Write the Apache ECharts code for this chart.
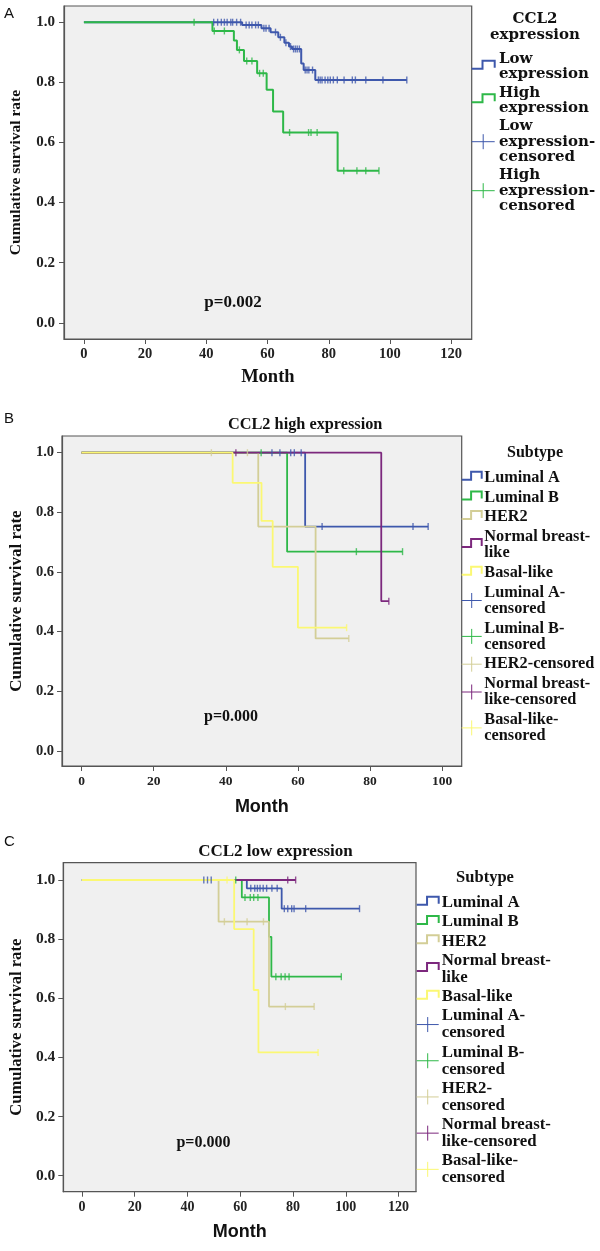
<!DOCTYPE html>
<html><head><meta charset="utf-8">
<script src="https://cdn.jsdelivr.net/npm/echarts@6/dist/echarts.min.js"></script>
<style>html,body{margin:0;padding:0;background:#fff}#c{width:600px;height:1251px}</style>
</head><body><div id="c"></div>
<script>
// ================= DATA =================
const monthTicksA = [0, 20, 40, 60, 80, 100, 120];
const monthTicksB = [0, 20, 40, 60, 80, 100];
const monthTicksC = [0, 20, 40, 60, 80, 100, 120];
const survTicks = [0, 0.2, 0.4, 0.6, 0.8, 1.0];

// Panel A – CCL2 expression  ([month, cumulative survival] after each event)
const aLowSteps = [[0,1],[51.7,0.991],[58,0.98],[61,0.967],[63.5,0.95],[65.5,0.932],[67,0.919],[68,0.911],[71,0.863],[71.8,0.841],[75.6,0.808],[105.5,0.808]];
const aLowCensored = [42.4,43.7,44.9,45.9,46.8,48,48.6,49.9,51.2,53,54,54.9,56.1,57,58.8,59.5,60.5,62.6,64.2,66,67.5,68.5,69.1,69.7,70.4,72.3,72.9,73.5,74.7,76.6,77.2,77.8,78.8,79.7,80.5,81.5,82.8,85,87.7,88.7,92.1,97.7,105.5];
const aHighSteps = [[0,1],[42,0.971],[49,0.939],[50,0.908],[52.3,0.871],[56.6,0.83],[59.7,0.775],[61.8,0.703],[65.1,0.633],[82.9,0.506],[96.4,0.506]];
const aHighCensored = [36,42.6,45.9,50.8,53.2,54.9,57.4,58.6,67.2,73.4,74.2,76.2,84.9,89.2,92.1,96.4];

// Panel B – CCL2 high expression, by subtype
const bLumASteps = [[0,1],[62,0.752],[96.1,0.752]];
const bLumACensored = [52.8,55,58,59,60.9,66.7,91.9,96.1];
const bLumBSteps = [[0,1],[57,0.668],[89,0.668]];
const bLumBCensored = [49.8,76.2,89];
const bHer2Steps = [[0,1],[49,0.752],[64.9,0.377],[74.1,0.377]];
const bHer2Censored = [36,46,74.1];
const bNormalSteps = [[0,1],[83.1,0.502],[85.2,0.502]];
const bNormalCensored = [42.8,85.2];
const bBasalSteps = [[0,1],[41.9,0.899],[49.9,0.771],[53,0.617],[60,0.413],[73.5,0.413]];
const bBasalCensored = [73.5];

// Panel C – CCL2 low expression, by subtype
const cLumASteps = [[0,1],[62.5,0.972],[75.7,0.903],[105.2,0.903]];
const cLumACensored = [46.2,47.6,49,64,65.5,66.5,67.5,68.7,70,72,74,76.7,78,79.5,80.4,84.8,105.2];
const cLumBSteps = [[0,1],[60.6,0.941],[70.9,0.808],[71.8,0.673],[98.3,0.673]];
const cLumBCensored = [58.3,61.8,63.8,65.1,66.7,73.5,75.5,77,78.5,98.3];
const cHer2Steps = [[0,1],[51.8,0.859],[70.9,0.572],[88,0.572]];
const cHer2Censored = [54,62.6,68.8,77.1,88];
const cNormalSteps = [[0,1],[81,1]];
const cNormalCensored = [78,81];
const cBasalSteps = [[0,1],[57.7,0.834],[65.1,0.628],[66.9,0.417],[89.5,0.417]];
const cBasalCensored = [55,89.5];

const expressionGroups = ['Low expression', 'High expression'];
const subtypes = ['Luminal A', 'Luminal B', 'HER2', 'Normal breast-like', 'Basal-like'];

// ================= STYLE / LAYOUT =================
const BLUE='#3E58AC', GREEN='#2EB848', TAN='#D3CE97', PURPLE='#7C287D', YELLOW='#FBF873';
const subtypeColors = [BLUE, GREEN, TAN, PURPLE, YELLOW];
const SERIF = '"Liberation Serif","Times New Roman",serif';
const DSERIF = '"DejaVu Serif",serif';
const SANS = '"Liberation Sans",Arial,sans-serif';

function survAt(steps, t){
  let v = steps[0][1];
  for (const s of steps){ if (s[0] <= t) v = s[1]; }
  return v;
}
const series = [];
const scatters = [];
function km(name, steps, cens, color, gi, lw){
  series.push({type:'line', name:name, xAxisIndex:gi, yAxisIndex:gi, step:'end', data:steps,
    symbol:'none', lineStyle:{color:color, width:lw}, itemStyle:{color:color}, animation:false, z:2});
  scatters.push({type:'scatter', name:name+'-censored', xAxisIndex:gi, yAxisIndex:gi,
    data:cens.map(t=>[t, survAt(steps,t)]), symbol:'rect', symbolSize:[1.4,7],
    itemStyle:{color:color}, animation:false, z:3});
}
km(expressionGroups[0], aLowSteps, aLowCensored, BLUE, 0, 2);
km(expressionGroups[1], aHighSteps, aHighCensored, GREEN, 0, 2);
const bSets = [[bLumASteps,bLumACensored],[bLumBSteps,bLumBCensored],[bHer2Steps,bHer2Censored],[bNormalSteps,bNormalCensored],[bBasalSteps,bBasalCensored]];
const cSets = [[cLumASteps,cLumACensored],[cLumBSteps,cLumBCensored],[cHer2Steps,cHer2Censored],[cNormalSteps,cNormalCensored],[cBasalSteps,cBasalCensored]];
bSets.forEach((s,i)=>km(subtypes[i], s[0], s[1], subtypeColors[i], 1, 1.8));
cSets.forEach((s,i)=>km(subtypes[i], s[0], s[1], subtypeColors[i], 2, 1.8));

const grids = [
  {left:61, top:6, width:410.7, height:333},
  {left:51, top:436, width:410.7, height:330},
  {left:56, top:862.7, width:360, height:329}
].map(g=>Object.assign(g,{show:true, backgroundColor:'#F0F0F0', borderColor:'#555', borderWidth:1.2}));

const axisCommon = {type:'value', splitLine:{show:false},
  axisLine:{show:true, onZero:false, lineStyle:{color:'#555', width:1.2}},
  axisTick:{show:true, length:5, inside:false, lineStyle:{color:'#555'}}};

function xAx(gi, min, max, ticks, fs, margin, nameFont, nameSize, gap){
  return Object.assign({}, axisCommon, {gridIndex:gi, min:min, max:max,
    axisTick:Object.assign({}, axisCommon.axisTick, {customValues:ticks}),
    axisLabel:{customValues:ticks, fontFamily:SERIF, fontWeight:'bold', fontSize:fs, color:'#222', margin:margin},
    name:'Month', nameLocation:'middle', nameGap:gap,
    nameTextStyle:{fontFamily:nameFont, fontWeight:'bold', fontSize:nameSize, color:'#111'}});
}
function yAx(gi, min, max, fs, margin, nameSize, gap){
  return Object.assign({}, axisCommon, {gridIndex:gi, min:min, max:max,
    axisTick:Object.assign({}, axisCommon.axisTick, {customValues:survTicks}),
    axisLabel:{customValues:survTicks, formatter:v=>v.toFixed(1), fontFamily:SERIF, fontWeight:'bold', fontSize:fs, color:'#222', margin:margin},
    name:'Cumulative survival rate', nameLocation:'middle', nameGap:gap, nameRotate:90,
    nameTextStyle:{fontFamily:SERIF, fontWeight:'bold', fontSize:nameSize, color:'#111'}});
}

const xAxes = [
  xAx(0, -6.5, 126.7, monthTicksA, 14.5, 8, SERIF, 18.5, 29),
  xAx(1, -5.4, 105.4, monthTicksB, 13.5, 9, SANS, 18, 32),
  xAx(2, -7.05, 126.6, monthTicksC, 14, 9, SANS, 18, 31)
];
const yAxes = [
  yAx(0, -0.054, 1.054, 15, 9, 15.5, 40),
  yAx(1, -0.051, 1.056, 14.5, 8, 17, 31),
  yAx(2, -0.054, 1.0585, 15.5, 8, 16.6, 32)
];

// ---------- legends (graphic) ----------
function legendEls(cfg){
  const els = [];
  els.push({type:'text', x:cfg.titleX, y:cfg.titleY, style:{text:cfg.title, font:cfg.titleFont,
    textAlign:'center', align:'center', textVerticalAlign:'middle', verticalAlign:'middle', lineHeight:cfg.titleLH, fill:'#111'}});
  let top = cfg.firstY - cfg.lh/2;
  cfg.items.forEach(it=>{
    const n = it.label.split('\n').length;
    const h = n*cfg.lh;
    const cy = top + h/2;
    const x0 = cfg.iconX, w = cfg.iw;
    if (it.kind === 'step'){
      const yl = cy + 2, yh = cy - 6;
      els.push({type:'polyline', shape:{points:[[x0,yl],[x0+w*0.47,yl],[x0+w*0.47,yh],[x0+w,yh],[x0+w,yl-1]]},
        style:{stroke:it.color, lineWidth:2, fill:null}});
    } else {
      els.push({type:'line', shape:{x1:x0, y1:cy, x2:x0+w, y2:cy}, style:{stroke:it.color, lineWidth:1}});
      els.push({type:'line', shape:{x1:x0+w/2, y1:cy-7.5, x2:x0+w/2, y2:cy+7.5}, style:{stroke:it.color, lineWidth:1}});
    }
    els.push({type:'text', x:cfg.textX, y:top, style:{text:it.label, font:cfg.font, lineHeight:cfg.lh,
      textVerticalAlign:'top', verticalAlign:'top', fill:'#111'}});
    top += h + cfg.gap;
  });
  return els;
}

const aLegendLabels = ['Low\nexpression','High\nexpression','Low\nexpression-\ncensored','High\nexpression-\ncensored'];
const bLegendLabels = ['Luminal A','Luminal B','HER2','Normal breast-\nlike','Basal-like',
  'Luminal A-\ncensored','Luminal B-\ncensored','HER2-censored','Normal breast-\nlike-censored','Basal-like-\ncensored'];
const cLegendLabels = ['Luminal A','Luminal B','HER2','Normal breast-\nlike','Basal-like',
  'Luminal A-\ncensored','Luminal B-\ncensored','HER2-\ncensored','Normal breast-\nlike-censored','Basal-like-\ncensored'];

const aColors = [BLUE, GREEN];
const aItems = aLegendLabels.map((l,i)=>({label:l, kind:i<2?'step':'cross', color:aColors[i%2]}));
const bItems = bLegendLabels.map((l,i)=>({label:l, kind:i<5?'step':'cross', color:subtypeColors[i%5]}));
const cItems = cLegendLabels.map((l,i)=>({label:l, kind:i<5?'step':'cross', color:subtypeColors[i%5]}));

const graphics = [].concat(
  legendEls({title:'CCL2\nexpression', titleX:535, titleY:27, titleLH:15.7, titleFont:'bold 15px '+DSERIF,
    items:aItems, iconX:471.7, iw:23, textX:499, firstY:59, lh:15.3, gap:3.1, font:'bold 15px '+DSERIF}),
  legendEls({title:'Subtype', titleX:535, titleY:452.7, titleLH:16, titleFont:'bold 16px '+SERIF,
    items:bItems, iconX:461.7, iw:20, textX:484.3, firstY:477.7, lh:16.2, gap:3.5, font:'bold 16.3px '+SERIF}),
  legendEls({title:'Subtype', titleX:485, titleY:878, titleLH:16, titleFont:'bold 16.5px '+SERIF,
    items:cItems, iconX:416.7, iw:22, textX:441.7, firstY:902.7, lh:16.9, gap:2.4, font:'bold 16.8px '+SERIF}),
  [
    {type:'text', x:4, y:6, style:{text:'A', font:'15px '+SANS, fill:'#111'}},
    {type:'text', x:4, y:411, style:{text:'B', font:'15px '+SANS, fill:'#111'}},
    {type:'text', x:4, y:834, style:{text:'C', font:'15px '+SANS, fill:'#111'}},
    {type:'text', x:305.2, y:425, style:{text:'CCL2 high expression', font:'bold 16.3px '+SERIF, textAlign:'center', align:'center', textVerticalAlign:'middle', verticalAlign:'middle', fill:'#111'}},
    {type:'text', x:275.5, y:851.7, style:{text:'CCL2 low expression', font:'bold 17px '+SERIF, textAlign:'center', align:'center', textVerticalAlign:'middle', verticalAlign:'middle', fill:'#111'}},
    {type:'text', x:233, y:302.7, style:{text:'p=0.002', font:'bold 17px '+SERIF, textAlign:'center', align:'center', textVerticalAlign:'middle', verticalAlign:'middle', fill:'#111'}},
    {type:'text', x:231, y:717.3, style:{text:'p=0.000', font:'bold 16px '+SERIF, textAlign:'center', align:'center', textVerticalAlign:'middle', verticalAlign:'middle', fill:'#111'}},
    {type:'text', x:203.4, y:1143.3, style:{text:'p=0.000', font:'bold 16px '+SERIF, textAlign:'center', align:'center', textVerticalAlign:'middle', verticalAlign:'middle', fill:'#111'}}
  ]
);

const chart = echarts.init(document.getElementById('c'), null, {renderer:'canvas'});
chart.setOption({
  animation:false,
  backgroundColor:'#ffffff',
  grid:grids,
  xAxis:xAxes,
  yAxis:yAxes,
  series:series.concat(scatters),
  graphic:graphics
});
</script>
</body></html>
